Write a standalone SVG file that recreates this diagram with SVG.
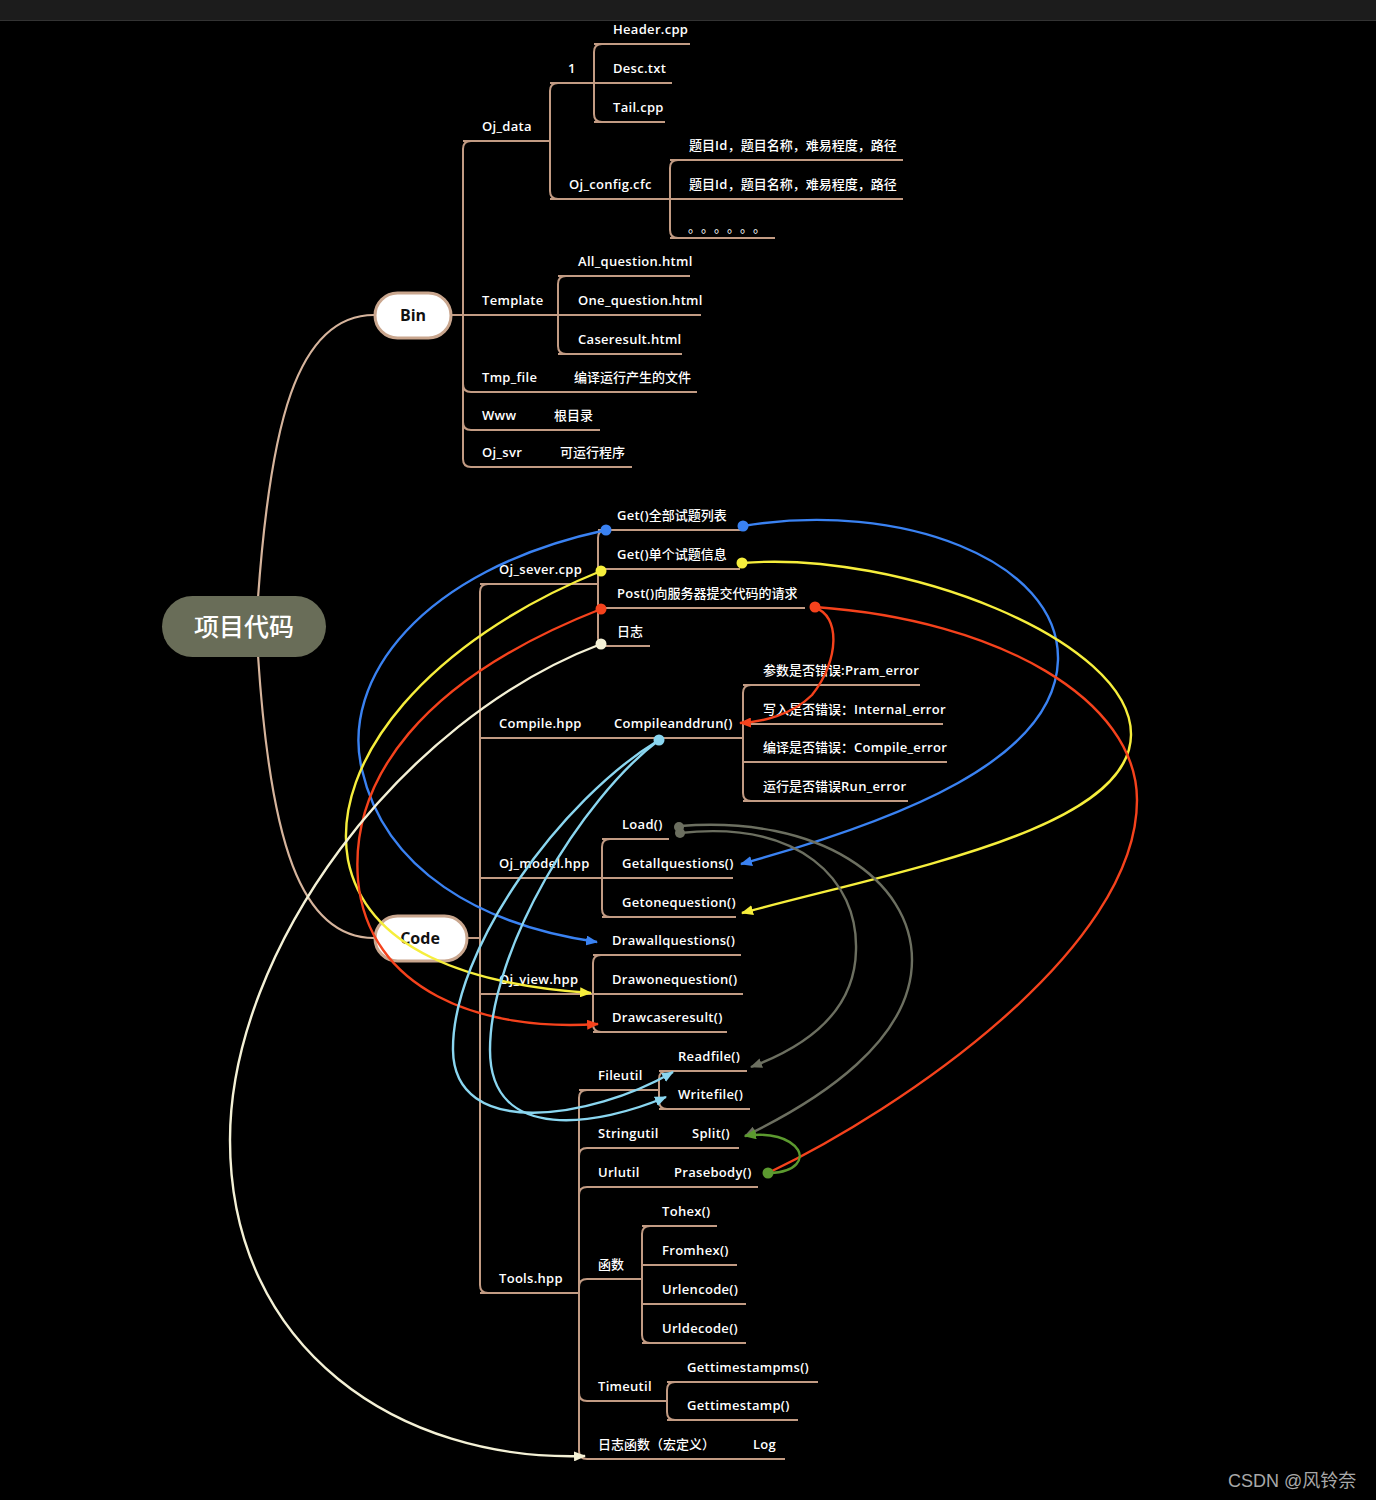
<svg xmlns="http://www.w3.org/2000/svg" width="1376" height="1500" viewBox="0 0 1376 1500">
<style>
.t{font-family:"Open Sans","Noto Sans CJK SC",sans-serif;font-size:13px;font-weight:600;fill:#ffffff;letter-spacing:0.3px}
.z{font-family:"Open Sans","Noto Sans CJK SC",sans-serif;font-size:13px;font-weight:500;fill:#ffffff}
.l{font-weight:600;letter-spacing:0.3px}
.ln{stroke:#c29b83;stroke-width:2;fill:none}
.c{fill:none;stroke-width:2.4}
.nb{font-family:"Open Sans","Noto Sans CJK SC",sans-serif;font-size:16px;font-weight:700;fill:#111;text-anchor:middle}
</style>
<defs>
<marker id="mBlue" viewBox="0 0 12 10" refX="11" refY="5" markerWidth="12" markerHeight="10" markerUnits="userSpaceOnUse" orient="auto"><path d="M0,0 L12,5 L0,10 z" fill="#3a82f2"/></marker>
<marker id="mYel" viewBox="0 0 12 10" refX="11" refY="5" markerWidth="12" markerHeight="10" markerUnits="userSpaceOnUse" orient="auto"><path d="M0,0 L12,5 L0,10 z" fill="#f6ee3c"/></marker>
<marker id="mRed" viewBox="0 0 12 10" refX="11" refY="5" markerWidth="12" markerHeight="10" markerUnits="userSpaceOnUse" orient="auto"><path d="M0,0 L12,5 L0,10 z" fill="#f5421c"/></marker>
<marker id="mCream" viewBox="0 0 12 10" refX="11" refY="5" markerWidth="12" markerHeight="10" markerUnits="userSpaceOnUse" orient="auto"><path d="M0,0 L12,5 L0,10 z" fill="#f4f1d6"/></marker>
<marker id="mLb" viewBox="0 0 12 10" refX="11" refY="5" markerWidth="12" markerHeight="10" markerUnits="userSpaceOnUse" orient="auto"><path d="M0,0 L12,5 L0,10 z" fill="#8ad6f0"/></marker>
<marker id="mGray" viewBox="0 0 12 10" refX="11" refY="5" markerWidth="12" markerHeight="10" markerUnits="userSpaceOnUse" orient="auto"><path d="M0,0 L12,5 L0,10 z" fill="#6c6f60"/></marker>
<marker id="mGreen" viewBox="0 0 12 10" refX="11" refY="5" markerWidth="12" markerHeight="10" markerUnits="userSpaceOnUse" orient="auto"><path d="M0,0 L12,5 L0,10 z" fill="#5c9a2f"/></marker>
</defs>
<rect x="0" y="0" width="1376" height="1500" fill="#000"/>
<rect x="0" y="0" width="1376" height="20" fill="#1c1c1c"/>
<line x1="0" y1="20.5" x2="1376" y2="20.5" stroke="#333" stroke-width="1"/>

<g id="main-edges">
<path d="M258,598 C270,430 295,315 374,315" fill="none" stroke="#d6b49c" stroke-width="2.2"/>
<path d="M258,655 C270,840 300,938 374,938" fill="none" stroke="#d6b49c" stroke-width="2.2"/>
<line class="ln" x1="451" y1="315" x2="463" y2="315"/>
<line class="ln" x1="467" y1="938" x2="480" y2="938"/>
</g>

<g id="root">
<rect x="162" y="596" width="164" height="61" rx="30.5" fill="#696d58"/>
<text x="244" y="636" text-anchor="middle" font-family="'Noto Sans CJK SC',sans-serif" font-size="25" font-weight="500" fill="#fff">项目代码</text>
</g>
<g id="bin">
<rect x="375" y="293" width="76" height="45" rx="22.5" fill="#fff" stroke="#c9a68e" stroke-width="3"/>
<text class="nb" x="413" y="321">Bin</text>
</g>
<g id="code">
<rect x="375" y="916" width="92" height="45" rx="22.5" fill="#fff" stroke="#c9a68e" stroke-width="3"/>
<text class="nb" x="420" y="944">Code</text>
</g>

<g id="bin-trunk"><path class="ln" d="M471,141 Q463,141 463,149 L463,459 Q463,467 471,467"/></g>
<g id="oj_data"><line class="ln" x1="463" y1="141" x2="550" y2="141"/><text class="t" x="482" y="131">Oj_data</text>
<path class="ln" d="M558,83 Q550,83 550,91 L550,191 Q550,199 558,199"/></g>
<g id="n1"><line class="ln" x1="550" y1="83" x2="594" y2="83"/><text class="t" x="568" y="73">1</text>
<path class="ln" d="M602,44 Q594,44 594,52 L594,114 Q594,122 602,122"/></g>
<g id="header"><line class="ln" x1="594" y1="44" x2="690" y2="44"/><text class="t" x="613" y="34">Header.cpp</text></g>
<g id="desc"><line class="ln" x1="594" y1="83" x2="672" y2="83"/><text class="t" x="613" y="73">Desc.txt</text></g>
<g id="tail"><line class="ln" x1="594" y1="122" x2="665" y2="122"/><text class="t" x="613" y="112">Tail.cpp</text></g>
<g id="ojconfig"><line class="ln" x1="550" y1="199" x2="670" y2="199"/><text class="t" x="569" y="189">Oj_config.cfc</text>
<path class="ln" d="M678,160 Q670,160 670,168 L670,230 Q670,238 678,238"/></g>
<g id="cfg1"><line class="ln" x1="670" y1="160" x2="903" y2="160"/><text class="z" x="689" y="150">题目<tspan class="l">Id</tspan>，题目名称，难易程度，路径</text></g>
<g id="cfg2"><line class="ln" x1="670" y1="199" x2="903" y2="199"/><text class="z" x="689" y="189">题目<tspan class="l">Id</tspan>，题目名称，难易程度，路径</text></g>
<g id="cfg3"><line class="ln" x1="670" y1="238" x2="775" y2="238"/><text x="688 701 714 727 740 753" y="232" font-family="'Noto Sans CJK SC',sans-serif" font-size="13" fill="#fff">。。。。。。</text></g>
<g id="template"><line class="ln" x1="463" y1="315" x2="558" y2="315"/><text class="t" x="482" y="305">Template</text>
<path class="ln" d="M566,276 Q558,276 558,284 L558,346 Q558,354 566,354"/></g>
<g id="allq"><line class="ln" x1="558" y1="276" x2="690" y2="276"/><text class="t" x="578" y="266">All_question.html</text></g>
<g id="oneq"><line class="ln" x1="558" y1="315" x2="701" y2="315"/><text class="t" x="578" y="305">One_question.html</text></g>
<g id="caser"><line class="ln" x1="558" y1="354" x2="682" y2="354"/><text class="t" x="578" y="344">Caseresult.html</text></g>
<g id="tmpfile"><path class="ln" d="M463,384 Q463,392 471,392 L697,392"/><text class="t" x="482" y="382">Tmp_file</text><text class="z" x="574" y="382">编译运行产生的文件</text></g>
<g id="www"><path class="ln" d="M463,422 Q463,430 471,430 L600,430"/><text class="t" x="482" y="420">Www</text><text class="z" x="554" y="420">根目录</text></g>
<g id="ojsvr"><line class="ln" x1="471" y1="467" x2="632" y2="467"/><text class="t" x="482" y="457">Oj_svr</text><text class="z" x="560" y="457">可运行程序</text></g>

<g id="code-trunk"><path class="ln" d="M488,584 Q480,584 480,592 L480,1285 Q480,1293 488,1293"/></g>
<g id="ojsever"><line class="ln" x1="480" y1="584" x2="598" y2="584"/><text class="t" x="499" y="574">Oj_sever.cpp</text>
<path class="ln" d="M606,530 Q598,530 598,538 L598,638 Q598,646 606,646"/></g>
<g id="getall"><line class="ln" x1="598" y1="530" x2="743" y2="530"/><text class="z" x="617" y="520"><tspan class="l">Get()</tspan>全部试题列表</text></g>
<g id="getone"><line class="ln" x1="598" y1="569" x2="740" y2="569"/><text class="z" x="617" y="559"><tspan class="l">Get()</tspan>单个试题信息</text></g>
<g id="post"><line class="ln" x1="598" y1="608" x2="805" y2="608"/><text class="z" x="617" y="598"><tspan class="l">Post()</tspan>向服务器提交代码的请求</text></g>
<g id="rizhi"><line class="ln" x1="598" y1="646" x2="650" y2="646"/><text class="z" x="617" y="636">日志</text></g>
<g id="compile"><line class="ln" x1="480" y1="738" x2="743" y2="738"/><text class="t" x="499" y="728">Compile.hpp</text><text class="t" x="614" y="728">Compileanddrun()</text>
<path class="ln" d="M751,685 Q743,685 743,693 L743,793 Q743,801 751,801"/></g>
<g id="pram"><line class="ln" x1="743" y1="685" x2="920" y2="685"/><text class="z" x="763" y="675">参数是否错误<tspan class="l">:Pram_error</tspan></text></g>
<g id="internal"><line class="ln" x1="743" y1="724" x2="943" y2="724"/><text class="z" x="763" y="714">写入是否错误：<tspan class="l">Internal_error</tspan></text></g>
<g id="compileerr"><line class="ln" x1="743" y1="762" x2="947" y2="762"/><text class="z" x="763" y="752">编译是否错误：<tspan class="l">Compile_error</tspan></text></g>
<g id="runerr"><line class="ln" x1="743" y1="801" x2="908" y2="801"/><text class="z" x="763" y="791">运行是否错误<tspan class="l">Run_error</tspan></text></g>
<g id="ojmodel"><line class="ln" x1="480" y1="878" x2="602" y2="878"/><text class="t" x="499" y="868">Oj_model.hpp</text>
<path class="ln" d="M610,839 Q602,839 602,847 L602,909 Q602,917 610,917"/></g>
<g id="load"><line class="ln" x1="602" y1="839" x2="669" y2="839"/><text class="t" x="622" y="829">Load()</text></g>
<g id="getallq"><line class="ln" x1="602" y1="878" x2="733" y2="878"/><text class="t" x="622" y="868">Getallquestions()</text></g>
<g id="getoneq"><line class="ln" x1="602" y1="917" x2="736" y2="917"/><text class="t" x="622" y="907">Getonequestion()</text></g>
<g id="ojview"><line class="ln" x1="480" y1="994" x2="593" y2="994"/><text class="t" x="499" y="984">Oj_view.hpp</text>
<path class="ln" d="M601,955 Q593,955 593,963 L593,1024 Q593,1032 601,1032"/></g>
<g id="drawall"><line class="ln" x1="593" y1="955" x2="741" y2="955"/><text class="t" x="612" y="945">Drawallquestions()</text></g>
<g id="drawone"><line class="ln" x1="593" y1="994" x2="743" y2="994"/><text class="t" x="612" y="984">Drawonequestion()</text></g>
<g id="drawcase"><line class="ln" x1="593" y1="1032" x2="727" y2="1032"/><text class="t" x="612" y="1022">Drawcaseresult()</text></g>
<g id="tools"><line class="ln" x1="480" y1="1293" x2="579" y2="1293"/><text class="t" x="499" y="1283">Tools.hpp</text>
<path class="ln" d="M587,1090 Q579,1090 579,1098 L579,1451 Q579,1459 587,1459"/></g>
<g id="fileutil"><line class="ln" x1="579" y1="1090" x2="659" y2="1090"/><text class="t" x="598" y="1080">Fileutil</text>
<path class="ln" d="M667,1071 Q659,1071 659,1079 L659,1101 Q659,1109 667,1109"/></g>
<g id="readfile"><line class="ln" x1="659" y1="1071" x2="747" y2="1071"/><text class="t" x="678" y="1061">Readfile()</text></g>
<g id="writefile"><line class="ln" x1="659" y1="1109" x2="750" y2="1109"/><text class="t" x="678" y="1099">Writefile()</text></g>
<g id="stringutil"><path class="ln" d="M579,1156 Q579,1148 587,1148 L739,1148"/><text class="t" x="598" y="1138">Stringutil</text><text class="t" x="692" y="1138">Split()</text></g>
<g id="urlutil"><path class="ln" d="M579,1195 Q579,1187 587,1187 L758,1187"/><text class="t" x="598" y="1177">Urlutil</text><text class="t" x="674" y="1177">Prasebody()</text></g>
<g id="hanshu"><path class="ln" d="M579,1287 Q579,1279 587,1279 L642,1279"/><text class="z" x="598" y="1269">函数</text>
<path class="ln" d="M650,1226 Q642,1226 642,1234 L642,1335 Q642,1343 650,1343"/></g>
<g id="tohex"><line class="ln" x1="642" y1="1226" x2="717" y2="1226"/><text class="t" x="662" y="1216">Tohex()</text></g>
<g id="fromhex"><line class="ln" x1="642" y1="1265" x2="737" y2="1265"/><text class="t" x="662" y="1255">Fromhex()</text></g>
<g id="urlencode"><line class="ln" x1="642" y1="1304" x2="746" y2="1304"/><text class="t" x="662" y="1294">Urlencode()</text></g>
<g id="urldecode"><line class="ln" x1="642" y1="1343" x2="746" y2="1343"/><text class="t" x="662" y="1333">Urldecode()</text></g>
<g id="timeutil"><path class="ln" d="M579,1393 Q579,1401 587,1401 L667,1401"/><text class="t" x="598" y="1391">Timeutil</text>
<path class="ln" d="M675,1382 Q667,1382 667,1390 L667,1412 Q667,1420 675,1420"/></g>
<g id="gtms"><line class="ln" x1="667" y1="1382" x2="818" y2="1382"/><text class="t" x="687" y="1372">Gettimestampms()</text></g>
<g id="gts"><line class="ln" x1="667" y1="1420" x2="798" y2="1420"/><text class="t" x="687" y="1410">Gettimestamp()</text></g>
<g id="logfn"><line class="ln" x1="587" y1="1459" x2="785" y2="1459"/><text class="z" x="598" y="1449">日志函数（宏定义）</text><text class="t" x="753" y="1449">Log</text></g>

<g id="connectors">
<path class="c" stroke="#3a82f2" marker-end="url(#mBlue)" d="M606,530 C420,570 340,680 362,770 C385,870 480,925 597,942"/>
<path class="c" stroke="#3a82f2" marker-end="url(#mBlue)" d="M743,526 C900,500 1060,560 1058,660 C1055,760 900,820 741,864"/>
<path class="c" stroke="#f6ee3c" marker-end="url(#mYel)" d="M601,571 C430,640 330,760 348,860 C366,950 470,985 591,993"/>
<path class="c" stroke="#f6ee3c" marker-end="url(#mYel)" d="M742,563 C900,550 1132,640 1131,735 C1130,830 900,870 742,913"/>
<path class="c" stroke="#f5421c" marker-end="url(#mRed)" d="M601,609 C420,680 350,780 358,880 C368,990 480,1032 598,1024"/>
<path class="c" stroke="#f5421c" d="M815,607 C1000,620 1137,700 1137,800 C1137,950 900,1110 768,1173"/>
<path class="c" stroke="#f5421c" marker-end="url(#mRed)" d="M815,608 C840,615 840,660 812,695 C792,715 762,722 740,723"/>
<path class="c" stroke="#f4f1d6" marker-end="url(#mCream)" d="M601,644 C400,720 230,950 230,1140 C230,1350 400,1462 585,1456"/>
<path class="c" stroke="#8ad6f0" marker-end="url(#mLb)" d="M659,740 C560,800 452,950 453,1050 C454,1140 590,1120 673,1072"/>
<path class="c" stroke="#8ad6f0" marker-end="url(#mLb)" d="M659,740 C580,800 490,950 490,1050 C490,1145 600,1125 666,1097"/>
<path class="c" stroke="#6c6f60" marker-end="url(#mGray)" d="M680,833 C800,820 858,880 856,950 C855,1010 810,1045 751,1067"/>
<path class="c" stroke="#6c6f60" marker-end="url(#mGray)" d="M680,826 C820,815 912,880 912,960 C912,1040 820,1100 745,1136"/>
<path class="c" stroke="#5c9a2f" marker-end="url(#mGreen)" d="M770,1173 C798,1172 803,1158 798,1150 C790,1138 770,1132 745,1136"/>
<circle cx="606" cy="530" r="5.5" fill="#3a82f2"/>
<circle cx="743" cy="526" r="5.5" fill="#3a82f2"/>
<circle cx="601" cy="571" r="5.5" fill="#f6ee3c"/>
<circle cx="742" cy="563" r="5.5" fill="#f6ee3c"/>
<circle cx="601" cy="609" r="5.5" fill="#f5421c"/>
<circle cx="815" cy="607" r="5.5" fill="#f5421c"/>
<circle cx="601" cy="644" r="5.5" fill="#f4f1d6"/>
<circle cx="659" cy="740" r="5.5" fill="#8ad6f0"/>
<circle cx="679" cy="827" r="5" fill="#6c6f60"/>
<circle cx="680" cy="833" r="5" fill="#6c6f60"/>
<circle cx="768" cy="1173" r="5.5" fill="#5c9a2f"/>
</g>

<text x="1228" y="1487" font-family="'Liberation Sans','Noto Sans CJK SC',sans-serif" font-size="18" fill="#a8a8a8">CSDN @风铃奈</text>
</svg>
